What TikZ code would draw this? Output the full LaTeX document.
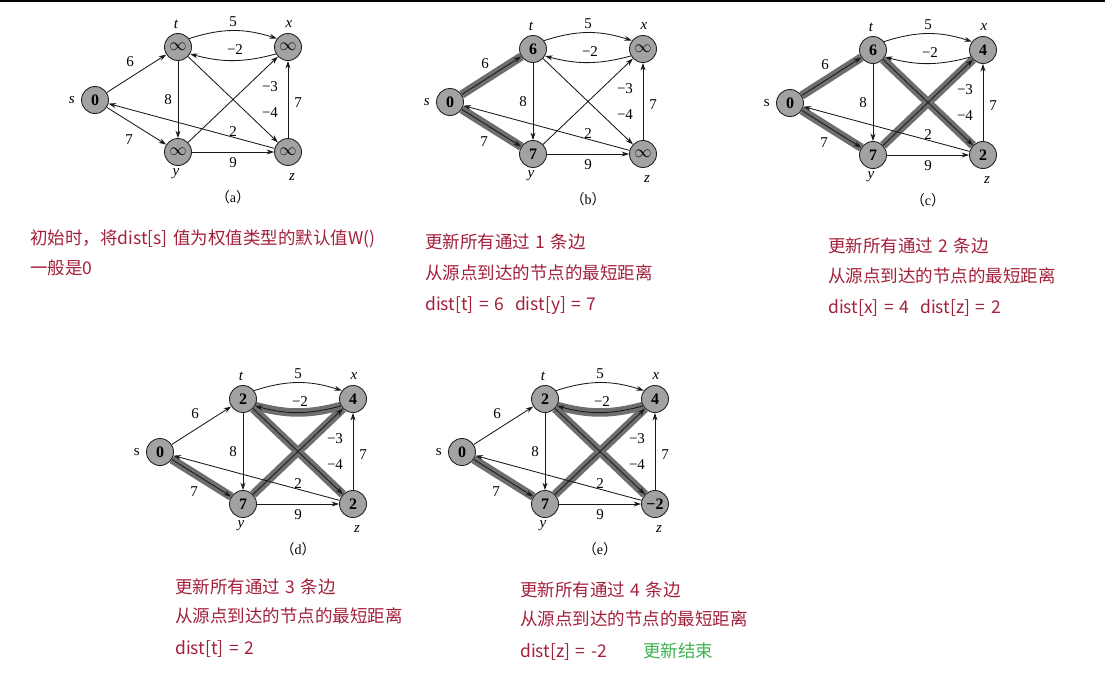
\documentclass[tikz,border=0pt]{standalone}
\usepackage{fontspec}
\setmainfont{Liberation Serif}
\newfontfamily\cjk{Noto Sans CJK SC}
\usetikzlibrary{arrows.meta,backgrounds}
\definecolor{notered}{RGB}{163,32,58}
\definecolor{notegreen}{RGB}{60,178,80}
\definecolor{vfill}{RGB}{162,162,162}
\definecolor{hlgray}{RGB}{110,110,110}
\newcommand\notefont{\cjk\fontsize{17.5}{20}\selectfont\spaceskip=5.5pt plus 1pt\relax}
\tikzset{
  vtx/.style={circle, draw=black!85, line width=0.9pt, fill=vfill, minimum size=27pt, inner sep=0pt, font=\bfseries\fontsize{16}{16}\selectfont},
  vlbl/.style={inner sep=0pt, font=\fontsize{15}{15}\selectfont},
  elbl/.style={inner sep=0pt, font=\fontsize{15}{15}\selectfont},
  captxt/.style={inner sep=0pt, font=\fontsize{14}{14}\selectfont},
  arr/.style={-{Stealth[length=7.5pt,width=5pt]}, line width=0.85pt, draw=black!90},
  hl/.style={line width=8.5pt, draw=hlgray},
  note/.style={anchor=west, inner sep=0pt, text height=14pt, text depth=4pt, text=notered, font=\notefont},
  notegr/.style={note, text=notegreen}
}
\newcommand\bfgraph[9]{%
\begin{scope}[shift={#2}]
\node[vtx] (#1s) at (0,0) {#4};
\node[vtx] (#1t) at (83,-53) {#5};
\node[vtx] (#1x) at (193,-53) {#6};
\node[vtx] (#1y) at (83,52) {#7};
\node[vtx] (#1z) at (193,52) {#8};
\node[vlbl] (#1ls) at (-25,0) {#3 s};
\node[vlbl] (#1lt) at (81,-76) {\itshape t};
\node[vlbl] (#1lx) at (194,-76) {\itshape x};
\node[vlbl] (#1ly) at (81,74) {\itshape y};
\node[vlbl] (#1lz) at (197,77) {\itshape z};
\node[elbl] (#1w1) at (138,-78) {5};
\node[elbl] (#1w2) at (140,-50) {−2};
\node[elbl] (#1w3) at (35,-38) {6};
\node[elbl] (#1w4) at (34,40) {7};
\node[elbl] (#1w5) at (73,0) {8};
\node[elbl] (#1w6) at (175,-13) {−3};
\node[elbl] (#1w7) at (175,13) {−4};
\node[elbl] (#1w8) at (203,3) {7};
\node[elbl] (#1w9) at (138,32) {2};
\node[elbl] (#1w10) at (138,63) {9};
\node[captxt] (#1cap) at (138,97) {{\cjk（}#9{\cjk）}};
\draw[arr] (#1s) -- (#1t);
\draw[arr] (#1s) -- (#1y);
\draw[arr] (#1t.37) to[bend left=18] (#1x.143);
\draw[arr] (#1x.-150) to[bend left=15] (#1t.-30);
\draw[arr] (#1t) -- (#1y);
\draw[arr] (#1t) -- (#1z);
\draw[arr] (#1y) -- (#1x);
\draw[arr] (#1y) -- (#1z);
\draw[arr] (#1z) -- (#1x);
\draw[arr] (#1z) -- (#1s);
\end{scope}}
\begin{document}
\begin{tikzpicture}[x=1pt,y=-1pt]
\useasboundingbox (0,0) rectangle (1105,675);
\draw[line width=1.5pt] (0,0.75) -- (1105,0.75);

\bfgraph{a}{(95,100)}{\itshape}{0}{$\infty$}{$\infty$}{$\infty$}{$\infty$}{a}
\bfgraph{b}{(450,102)}{\itshape}{0}{6}{$\infty$}{7}{$\infty$}{b}
\bfgraph{c}{(790,103)}{\upshape}{0}{6}{4}{7}{2}{c}
\bfgraph{d}{(160,452)}{\upshape}{0}{2}{4}{7}{2}{d}
\bfgraph{e}{(462,452)}{\upshape}{0}{2}{4}{7}{−2}{e}

\begin{pgfonlayer}{background}
\draw[hl] (bs) -- (bt);
\draw[hl] (bs) -- (by);
\draw[hl] (cs) -- (ct);
\draw[hl] (cs) -- (cy);
\draw[hl] (cy) -- (cx);
\draw[hl] (ct) -- (cz);
\draw[hl] (ds) -- (dy);
\draw[hl] (dy) -- (dx);
\draw[hl] (dt) -- (dz);
\draw[hl] (dx.-150) to[bend left=15] (dt.-30);
\draw[hl] (es) -- (ey);
\draw[hl] (ey) -- (ex);
\draw[hl] (et) -- (ez);
\draw[hl] (ex.-150) to[bend left=15] (et.-30);
\end{pgfonlayer}

\node[note] (na1) at (30,239) {初始时，将dist[s] 值为权值类型的默认值W()};
\node[note] (na2) at (30,269) {一般是0};

\node[note] (nb1) at (425,243) {更新所有通过 1 条边};
\node[note] (nb2) at (425,274) {从源点到达的节点的最短距离};
\node[note] (nb3) at (425,305) {dist[t] = 6\hspace{11pt}dist[y] = 7};

\node[note] (nc1) at (828,247) {更新所有通过 2 条边};
\node[note] (nc2) at (828,277) {从源点到达的节点的最短距离};
\node[note] (nc3) at (828,308) {dist[x] = 4\hspace{11pt}dist[z] = 2};

\node[note] (nd1) at (175,588) {更新所有通过 3 条边};
\node[note] (nd2) at (175,617) {从源点到达的节点的最短距离};
\node[note] (nd3) at (175,649) {dist[t] = 2};

\node[note] (ne1) at (520,591) {更新所有通过 4 条边};
\node[note] (ne2) at (520,620) {从源点到达的节点的最短距离};
\node[note] (ne3) at (520,652) {dist[z] = -2};
\node[notegr] (ne4) at (643,652) {更新结束};
\end{tikzpicture}
\end{document}
